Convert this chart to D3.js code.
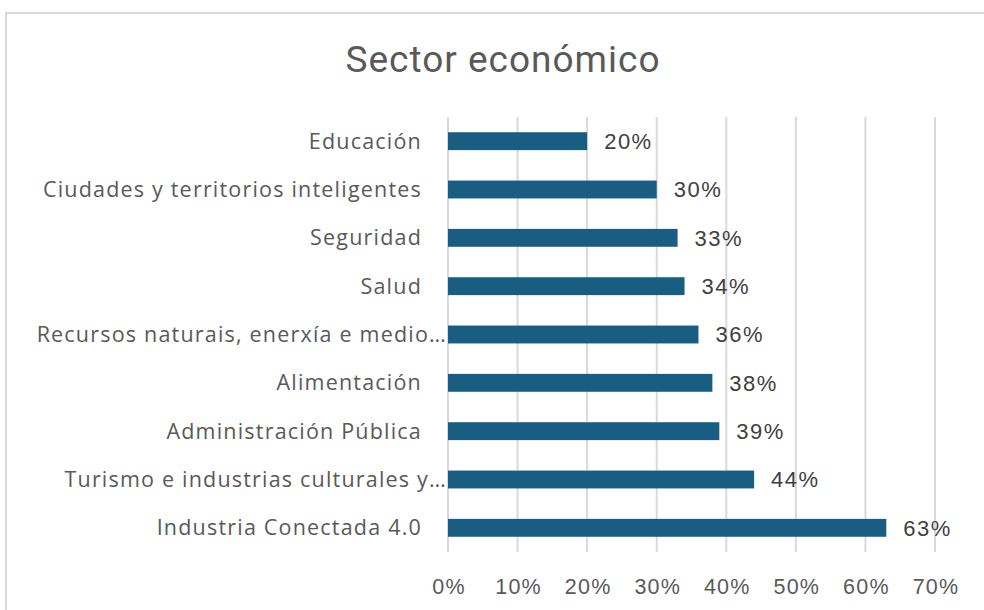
<!DOCTYPE html>
<html><head><meta charset="utf-8">
<script src="https://cdn.jsdelivr.net/npm/d3@7"></script>
<style>body{margin:0;background:#fff}svg{display:block}</style>
</head><body>
<svg id="c" width="984" height="610"></svg>
<script>
const title = "Sector económico";
const categories = ["Educación","Ciudades y territorios inteligentes","Seguridad","Salud","Recursos naturais, enerxía e medio…","Alimentación","Administración Pública","Turismo e industrias culturales y…","Industria Conectada 4.0"];
const values = [0.20,0.30,0.33,0.34,0.36,0.38,0.39,0.44,0.63];
const ticks = [0,0.1,0.2,0.3,0.4,0.5,0.6,0.7];

const svg = d3.select("#c");
svg.append("rect").attr("x",6).attr("y",13).attr("width",1100).attr("height",700)
  .attr("fill","#fff").attr("stroke","#d9d9d9").attr("stroke-width",2);

svg.append("text").attr("x",503).attr("y",72).attr("text-anchor","middle")
  .attr("font-family","Roboto, 'Noto Sans', sans-serif").attr("font-size",37)
  .attr("letter-spacing",1).attr("fill","#595959").text(title);

const x = d3.scaleLinear().domain([0,0.7]).range([448,935]);
const y = d3.scaleBand().domain(categories).range([117,552]).paddingInner(0.63).paddingOuter(0.315);

svg.append("g").selectAll("line").data(ticks).join("line")
  .attr("x1",d=>x(d)).attr("x2",d=>x(d)).attr("y1",117).attr("y2",552)
  .attr("stroke","#d9d9d9").attr("stroke-width",2);

svg.append("g").selectAll("rect").data(values).join("rect")
  .attr("x",x(0)).attr("y",(d,i)=>y(categories[i]))
  .attr("width",d=>x(d)-x(0)).attr("height",y.bandwidth())
  .attr("fill","#195e82");

svg.append("g").selectAll("text").data(values).join("text")
  .attr("x",d=>x(d)+17).attr("y",(d,i)=>y(categories[i])+y.bandwidth()/2)
  .attr("dy","0.36em").attr("font-family","'Liberation Sans', Arial, sans-serif")
  .attr("font-size",22).attr("letter-spacing",1.5).attr("fill","#404040").text(d=>d3.format(".0%")(d));

svg.append("g").selectAll("text").data(categories).join("text")
  .attr("x",d=>d.endsWith("…")?447:422).attr("y",d=>y(d)+y.bandwidth()/2).attr("dy","0.35em")
  .attr("text-anchor","end").attr("font-family","'Open Sans', sans-serif")
  .attr("font-size",21.5).attr("letter-spacing",1.2).attr("fill","#595959").text(d=>d);

svg.append("g").selectAll("text").data(ticks).join("text")
  .attr("x",d=>x(d)+1).attr("y",586).attr("dy","0.35em").attr("text-anchor","middle")
  .attr("font-family","'Liberation Sans', Arial, sans-serif").attr("font-size",21.5)
  .attr("letter-spacing",1.2).attr("fill","#595959").text(d=>d3.format(".0%")(d));
</script>
</body></html>
